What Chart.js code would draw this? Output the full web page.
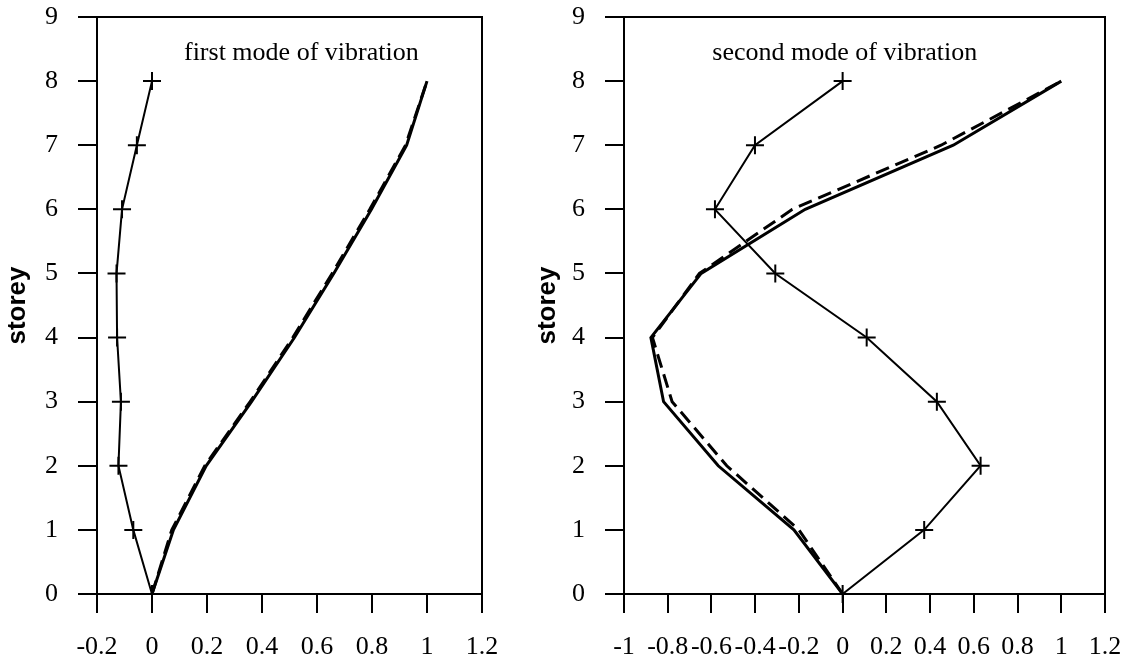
<!DOCTYPE html>
<html>
<head>
<meta charset="utf-8">
<script src="https://cdn.jsdelivr.net/npm/chart.js@4.4.1/dist/chart.umd.min.js"></script>
<style>
  html, body { margin: 0; padding: 0; background: #fff; }
  #wrap { position: relative; width: 1129px; height: 664px; overflow: hidden; }
  #c1 { position: absolute; left: 0; top: 0; }
  #c2 { position: absolute; left: 530px; top: 0; }
</style>
</head>
<body>
<div id="wrap">
  <canvas id="c1" width="560" height="664"></canvas>
  <canvas id="c2" width="599" height="664"></canvas>
</div>
<script>
// ---- data ----
const storeys = [0, 1, 2, 3, 4, 5, 6, 7, 8];
const yTickValues = [0, 1, 2, 3, 4, 5, 6, 7, 8, 9];

// first mode of vibration
const mode1Title = 'first mode of vibration';
const mode1Crosses = [0, -0.068, -0.122, -0.113, -0.127, -0.129, -0.109, -0.055, 0];
const mode1Solid   = [0, 0.078, 0.197, 0.362, 0.518, 0.661, 0.798, 0.926, 1.0];
const mode1Dashed  = [0, 0.072, 0.192, 0.357, 0.512, 0.655, 0.792, 0.922, 1.0];
const mode1XTicks  = [-0.2, 0, 0.2, 0.4, 0.6, 0.8, 1, 1.2];

// second mode of vibration
const mode2Title = 'second mode of vibration';
const mode2Crosses = [0, 0.373, 0.631, 0.431, 0.110, -0.308, -0.584, -0.401, 0];
const mode2Solid   = [0, -0.223, -0.569, -0.819, -0.877, -0.647, -0.171, 0.506, 1.0];
const mode2Dashed  = [0, -0.200, -0.530, -0.780, -0.870, -0.655, -0.230, 0.450, 1.0];
const mode2XTicks  = [-1, -0.8, -0.6, -0.4, -0.2, 0, 0.2, 0.4, 0.6, 0.8, 1, 1.2];

// ---- helpers ----
const pts = (xs) => xs.map((x, i) => ({ x: x, y: storeys[i] }));
const fmt = (v) => String(Math.round(v * 10) / 10);
const serif = '"Liberation Serif", "Times New Roman", serif';
const sans = '"Liberation Sans", Arial, sans-serif';

const boxPlugin = {
  id: 'boxPlugin',
  beforeDatasetsDraw(chart) {
    const a = chart.chartArea, ctx = chart.ctx;
    ctx.save();
    ctx.strokeStyle = '#000';
    ctx.lineWidth = 2;
    ctx.strokeRect(a.left, a.top, a.right - a.left, a.bottom - a.top);
    ctx.restore();
  },
  afterDraw(chart) {
    const o = chart.options.plugins.boxPlugin;
    if (!o) return;
    const ctx = chart.ctx;
    ctx.save();
    ctx.fillStyle = '#000';
    ctx.font = '26px ' + serif;
    ctx.textAlign = 'center';
    ctx.textBaseline = 'middle';
    ctx.fillText(o.text, chart.scales.x.getPixelForValue(o.x), chart.scales.y.getPixelForValue(o.y));
    ctx.restore();
  }
};

function makeChart(id, cfg) {
  const datasets = [
    { data: pts(cfg.solid), borderColor: '#000', borderWidth: 3, pointRadius: 0, showLine: true, tension: 0 },
    { data: pts(cfg.dashed), borderColor: '#000', borderWidth: 3, borderDash: [14, 7], pointRadius: 0, showLine: true, tension: 0 },
    { data: pts(cfg.crosses), borderColor: '#000', borderWidth: 2, showLine: true, tension: 0,
      pointStyle: 'cross', pointRadius: 9, pointBorderWidth: 2, pointBorderColor: '#000', clip: false }
  ];
  return new Chart(document.getElementById(id), {
    type: 'scatter',
    data: { datasets },
    plugins: [boxPlugin],
    options: {
      responsive: false,
      animation: false,
      layout: { padding: { left: 0, right: cfg.padRight, top: 17, bottom: 0 } },
      plugins: {
        legend: { display: false },
        tooltip: { enabled: false },
        boxPlugin: { text: cfg.title, x: cfg.titleX, y: 8.43 }
      },
      scales: {
        x: {
          type: 'linear', min: cfg.xTicks[0], max: cfg.xTicks[cfg.xTicks.length - 1],
          afterBuildTicks: (s) => { s.ticks = cfg.xTicks.map(v => ({ value: v })); },
          afterFit: (s) => { s.height = 70; s.paddingLeft = 0; s.paddingRight = 0; },
          ticks: { autoSkip: false, maxRotation: 0, color: '#000', padding: 19,
                   font: { family: serif, size: 26 }, callback: fmt },
          grid: { drawOnChartArea: false, drawTicks: true, tickLength: 19, color: '#000', lineWidth: 2 },
          border: { color: '#000', width: 2 }
        },
        y: {
          type: 'linear', min: 0, max: 9,
          afterBuildTicks: (s) => { s.ticks = yTickValues.map(v => ({ value: v })); },
          afterFit: (s) => { s.width = cfg.yWidth; s.paddingTop = 0; s.paddingBottom = 0; },
          ticks: { autoSkip: false, color: '#000', padding: 20,
                   font: { family: serif, size: 26 }, callback: fmt },
          grid: { drawOnChartArea: false, drawTicks: true, tickLength: 19, color: '#000', lineWidth: 2 },
          border: { color: '#000', width: 2 },
          title: { display: true, text: 'storey', color: '#000',
                   font: { family: sans, size: 26, weight: 'bold' }, padding: { top: 2, bottom: 0 } }
        }
      }
    }
  });
}

makeChart('c1', { solid: mode1Solid, dashed: mode1Dashed, crosses: mode1Crosses, xTicks: mode1XTicks,
                  title: mode1Title, titleX: 0.543, padRight: 78, yWidth: 97 });
makeChart('c2', { solid: mode2Solid, dashed: mode2Dashed, crosses: mode2Crosses, xTicks: mode2XTicks,
                  title: mode2Title, titleX: 0.01, padRight: 24, yWidth: 94 });
</script>
</body>
</html>
